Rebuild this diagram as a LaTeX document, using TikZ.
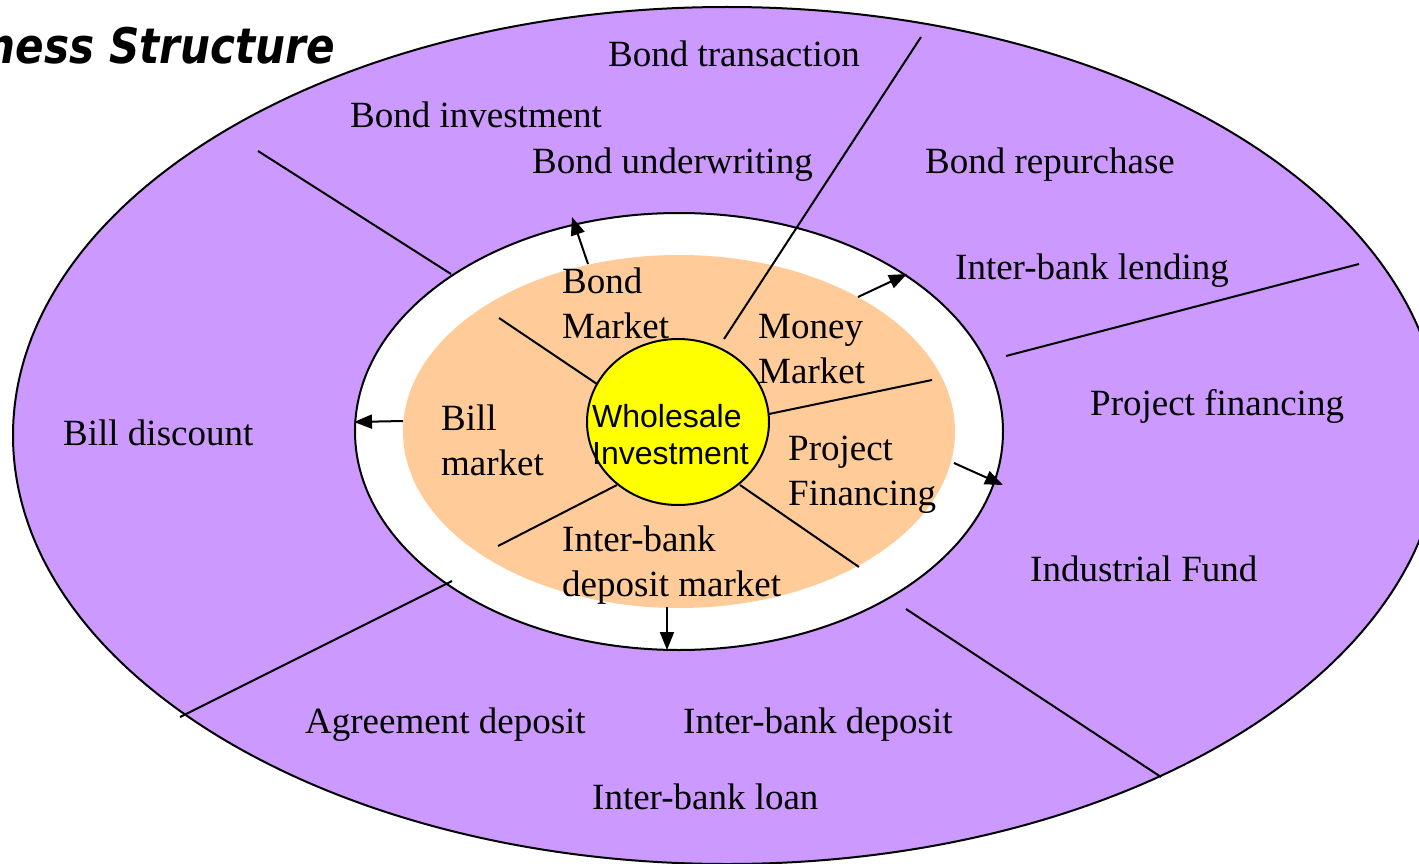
\documentclass[tikz,border=0pt]{standalone}
\usepackage{fontspec}
\setmainfont{Liberation Serif}
\newfontfamily\arialf{Liberation Sans}
\newfontfamily\titlef{DejaVu Sans}
\usetikzlibrary{shapes.geometric,arrows.meta}
\definecolor{purp}{HTML}{CC99FF}
\definecolor{peach}{HTML}{FFCC99}
\definecolor{yel}{HTML}{FFFF00}
\begin{document}
\begin{tikzpicture}[x=1pt,y=-1pt,
  ring/.style={ellipse, inner sep=0pt, line width=2pt},
  lbl/.style={inner sep=0pt, anchor=base west, font=\fontsize{37}{44.5}\selectfont, align=left},
  div/.style={line width=2pt},
  arr/.style={line width=2pt, -{Triangle[length=18pt,width=14pt]}}]
\useasboundingbox (0,0) rectangle (1419,864);
% rings
\node[ring, draw, fill=purp, minimum width=1428pt, minimum height=857pt] (outer) at (727,435.5) {};
\node[ring, draw, fill=white, minimum width=648pt, minimum height=437pt] (white) at (679,431.5) {};
\node[ring, fill=peach, minimum width=552pt, minimum height=353pt] (core) at (679,431.5) {};
% coordinates for dividers and arrows
\coordinate (d1a) at (258,151);  \coordinate (d1b) at (451,274);
\coordinate (d2a) at (921,37);   \coordinate (d2b) at (724,339);
\coordinate (d3a) at (1359,264); \coordinate (d3b) at (1006,356);
\coordinate (d4a) at (906,609);  \coordinate (d4b) at (1161,777);
\coordinate (d5a) at (452,581);  \coordinate (d5b) at (180,717);
\coordinate (i1a) at (499,318);  \coordinate (i1b) at (597,384);
\coordinate (i2a) at (769,414);  \coordinate (i2b) at (932,380);
\coordinate (i3a) at (740,485);  \coordinate (i3b) at (859,567);
\coordinate (i4a) at (617,485);  \coordinate (i4b) at (498,546);
\coordinate (a1a) at (588,264);  \coordinate (a1b) at (572,217);
\coordinate (a2a) at (858,297);  \coordinate (a2b) at (907,274);
\coordinate (a3a) at (403,421);  \coordinate (a3b) at (354,422);
\coordinate (a4a) at (954,463);  \coordinate (a4b) at (1003,485);
\coordinate (a5a) at (667,607);  \coordinate (a5b) at (667,650);
% dividers
\draw[div] (d1a) -- (d1b);
\draw[div] (d3a) -- (d3b);
\draw[div] (d4a) -- (d4b);
\draw[div] (d5a) -- (d5b);
\draw[div] (i1a) -- (i1b);
\draw[div] (i2a) -- (i2b);
\draw[div] (i3a) -- (i3b);
\draw[div] (i4a) -- (i4b);
% arrows
\draw[arr] (a1a) -- (a1b);
\draw[arr] (a2a) -- (a2b);
\draw[arr] (a3a) -- (a3b);
\draw[arr] (a4a) -- (a4b);
\draw[arr] (a5a) -- (a5b);
% centre
\node[ring, draw, fill=yel, minimum width=182pt, minimum height=166pt] (hub) at (678,422) {};
\draw[div] (d2a) -- (d2b);
\node[inner sep=0pt, anchor=base west, align=left, font=\arialf\fontsize{32}{37}\selectfont] (hubtxt) at (592,464) {Wholesale\\Investment};
% title
\node[inner sep=0pt, anchor=base east, xscale=0.86, font=\titlef\bfseries\itshape\fontsize{49}{52}\selectfont] (title) at (335,64) {ness Structure};
% outer labels
\node[lbl] (t1) at (608,67) {Bond transaction};
\node[lbl] (t2) at (350,128) {Bond investment};
\node[lbl] (t3) at (532,173) {Bond underwriting};
\node[lbl] (t4) at (925,173) {Bond repurchase};
\node[lbl] (t5) at (955,279) {Inter-bank lending};
\node[lbl] (t6) at (1090,415) {Project financing};
\node[lbl] (t7) at (63,445) {Bill discount};
\node[lbl] (t8) at (1030,581) {Industrial Fund};
\node[lbl] (t9) at (305,733) {Agreement deposit};
\node[lbl] (t10) at (683,733) {Inter-bank deposit};
\node[lbl] (t11) at (592,809) {Inter-bank loan};
% inner labels (anchor = baseline of last line)
\node[lbl] (m1) at (562,338) {Bond\\Market};
\node[lbl] (m2) at (758,383) {Money\\Market};
\node[lbl] (m3) at (441,475) {Bill\\market};
\node[lbl] (m4) at (788,505) {Project\\Financing};
\node[lbl] (m5) at (562,596) {Inter-bank\\deposit market};
\end{tikzpicture}
\end{document}
